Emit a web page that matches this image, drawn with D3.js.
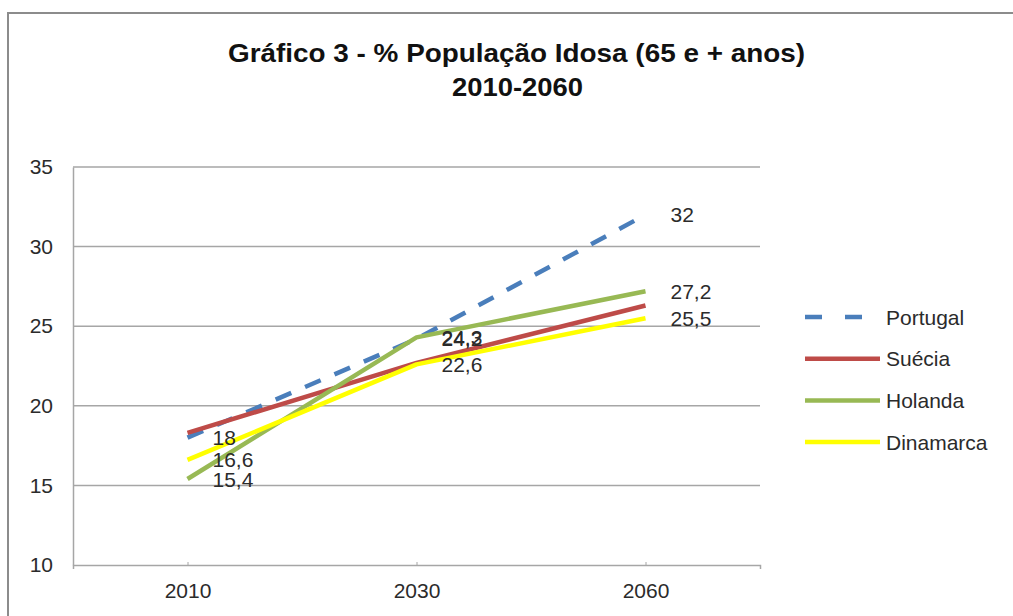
<!DOCTYPE html>
<meta charset="utf-8">
<script src="https://d3js.org/d3.v7.min.js"></script>
<style>
    body { margin: 0; background: #fff; }
    text { font-family: "Liberation Sans", Arial, sans-serif; fill: #2b2b2b; }
</style>
<div id="chart"></div>
<script>

    // data
    var years = ["2010", "2030", "2060"];
    var portugal = [18, 24.2, 32];
    var suecia = [18.3, 22.7, 26.3];
    var holanda = [15.4, 24.3, 27.2];
    var dinamarca = [16.6, 22.6, 25.5];
    var yTicks = [10, 15, 20, 25, 30, 35];

    var series = [
        {name: "Portugal", values: portugal, color: "#4a7ebb", dash: "17,15", labels: true},
        {name: "Suécia", values: suecia, color: "#be4b48", dash: null, labels: false},
        {name: "Holanda", values: holanda, color: "#98b954", dash: null, labels: true},
        {name: "Dinamarca", values: dinamarca, color: "#ffff00", dash: null, labels: true}
    ];

    var W = 1013, H = 616;
    var margin = {top: 167, left: 73, right: 253, bottom: 51};
    var width = W - margin.left - margin.right,
        height = H - margin.top - margin.bottom;

    var svg = d3.select("#chart").append("svg")
        .attr("width", W)
        .attr("height", H);

    // outer frame (only top and left visible in the crop)
    svg.append("path")
        .attr("d", "M8," + H + "V13H" + W)
        .attr("fill", "none")
        .attr("stroke", "#8c8c8c")
        .attr("stroke-width", 2);

    // title - condensed look, squeezed to the width seen in the picture
    var title = svg.append("g")
        .style("font-weight", "bold")
        .style("font-size", "26px");
    title.append("text")
        .attr("x", 228).attr("y", 62)
        .attr("textLength", 577).attr("lengthAdjust", "spacingAndGlyphs")
        .style("fill", "#111")
        .text("Gráfico 3 - % População Idosa (65 e + anos)");
    title.append("text")
        .attr("x", 452).attr("y", 96)
        .attr("textLength", 131).attr("lengthAdjust", "spacingAndGlyphs")
        .style("fill", "#111")
        .text("2010-2060");

    var g = svg.append("g")
        .attr("transform", "translate(" + margin.left + "," + margin.top + ")");

    var x = d3.scalePoint()
        .domain(years)
        .range([0, width])
        .padding(0.5);

    var y = d3.scaleLinear()
        .domain([10, 35])
        .range([height, 0]);

    // gridlines
    g.append("g")
        .selectAll("line")
        .data(yTicks.slice(1))
        .enter()
        .append("line")
        .attr("x1", 0)
        .attr("x2", width)
        .attr("y1", function (d) { return y(d); })
        .attr("y2", function (d) { return y(d); })
        .attr("stroke", "#a6a6a6")
        .attr("stroke-width", 1.5);

    // y axis
    var yAxis = g.append("g")
        .call(d3.axisLeft(y).tickValues(yTicks).tickSize(0).tickPadding(20));
    yAxis.select(".domain").attr("stroke", "#a6a6a6").attr("stroke-width", 1.5);
    yAxis.selectAll("text").style("font-size", "21px").style("fill", "#2b2b2b");

    // x axis
    var xAxis = g.append("g")
        .attr("transform", "translate(0," + height + ")")
        .call(d3.axisBottom(x).tickSize(4).tickSizeOuter(4).tickPadding(14));
    xAxis.select(".domain").attr("stroke", "#a6a6a6").attr("stroke-width", 1.5);
    xAxis.selectAll(".tick line").attr("stroke", "#a6a6a6").attr("y1", -3).attr("y2", 1);
    xAxis.selectAll("text").style("font-size", "21px").style("fill", "#2b2b2b");

    var line = d3.line()
        .x(function (d, i) { return x(years[i]); })
        .y(function (d) { return y(d); });

    // lines
    g.append("g")
        .selectAll("path")
        .data(series)
        .enter()
        .append("path")
        .attr("d", function (d) { return line(d.values); })
        .attr("fill", "none")
        .attr("stroke", function (d) { return d.color; })
        .attr("stroke-width", 4.5)
        .attr("stroke-linejoin", "round")
        .attr("stroke-dasharray", function (d) { return d.dash; });

    // data labels (Suécia has none in the original)
    series.filter(function (s) { return s.labels; }).forEach(function (s) {
        g.append("g")
            .selectAll("text")
            .data(s.values)
            .enter()
            .append("text")
            .attr("x", function (d, i) { return x(years[i]) + 25; })
            .attr("y", function (d) { return y(d); })
            .attr("dy", "0.36em")
            .style("font-size", "21px")
            .text(function (d) { return String(d).replace(".", ","); });
    });

    // legend
    var legend = svg.append("g")
        .selectAll("g")
        .data(series)
        .enter()
        .append("g")
        .attr("transform", function (d, i) { return "translate(805," + (317 + i * 41.7) + ")"; });

    legend.append("line")
        .attr("x1", 0)
        .attr("x2", 75)
        .attr("stroke", function (d) { return d.color; })
        .attr("stroke-width", 4.5)
        .attr("stroke-dasharray", function (d) { return d.dash ? "17,23" : null; });

    legend.append("text")
        .attr("x", 81)
        .attr("dy", "0.36em")
        .style("font-size", "21px")
        .text(function (d) { return d.name; });

</script>
